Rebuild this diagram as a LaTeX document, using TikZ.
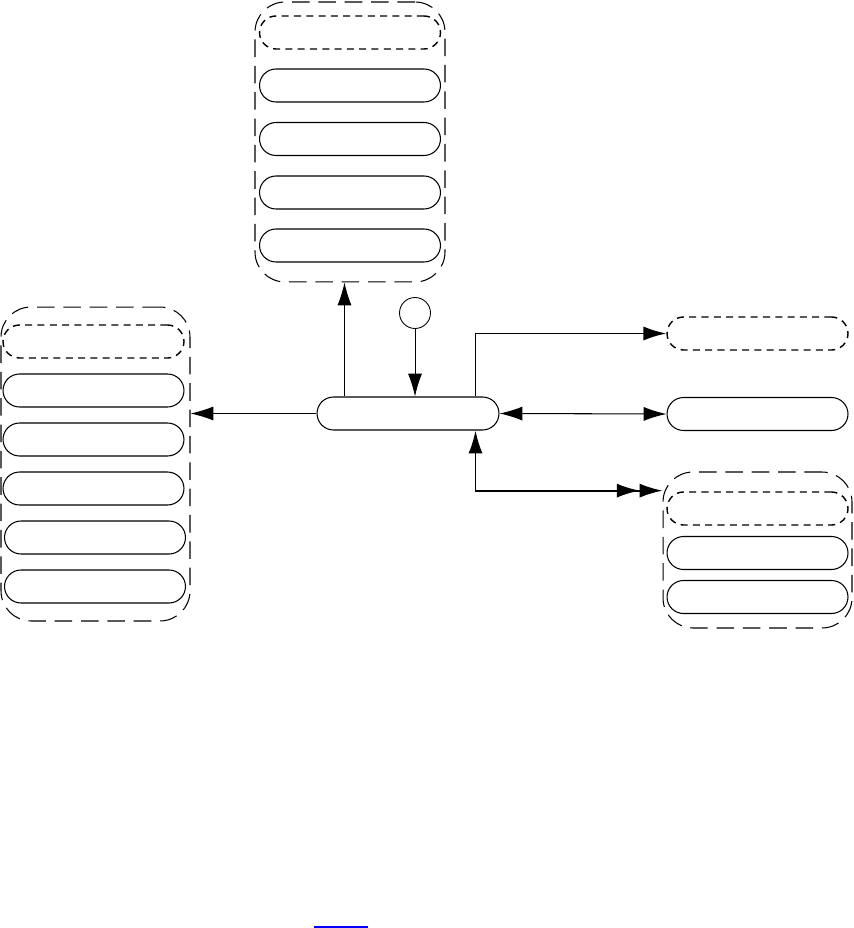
\documentclass[tikz,border=0pt]{standalone}
\usetikzlibrary{arrows.meta}

\tikzset{bigtip/.tip={Latex[length=13pt,width=8pt]}}

\begin{document}
\begin{tikzpicture}[x=0.02cm,y=-0.02cm,
  >=bigtip,
  pill/.style={draw,line width=0.6pt,rounded corners=0.33cm,minimum width=3.62cm,minimum height=0.66cm,inner sep=0pt},
  optpill/.style={pill,line width=0.8pt,dash pattern=on 4pt off 3pt},
  group/.style={draw,line width=0.6pt,dash pattern=on 10pt off 5pt,rounded corners=0.6cm,inner sep=0pt}]
  \useasboundingbox (0,0) rectangle (853,928);
  % top group
  \node[group,minimum width=3.8cm,minimum height=5.6cm] (grpT) at (350,142) {};
  \node[optpill] (optT) at (350,32.5) {};
  \foreach \i/\y in {1/85.5,2/139,3/192.5,4/245.5}
    \node[pill] (pillT\i) at (350,\y) {};
  % left group
  \node[group,minimum width=3.78cm,minimum height=6.28cm] (grpL) at (95.5,464) {};
  \node[optpill] (optL) at (93.5,341.5) {};
  \foreach \i/\x/\y in {1/93.5/390.5,2/93.5/439.5,3/93.5/488.5,4/95/537.5,5/95/586.5}
    \node[pill] (pillL\i) at (\x,\y) {};
  % right side
  \node[optpill] (optR) at (757.5,333.5) {};
  \node[pill] (solR) at (757.5,414) {};
  \node[group,minimum width=3.78cm,minimum height=3.12cm] (grpR) at (757.5,550) {};
  \node[optpill] (optR2) at (757.5,508.5) {};
  \node[pill] (pillR1) at (757.5,553) {};
  \node[pill] (pillR2) at (757.5,597) {};
  % centre
  \node[pill,minimum width=3.64cm] (main) at (408,413.5) {};
  \node[draw,circle,line width=0.5pt,minimum size=0.62cm,inner sep=0pt] (dot) at (415,313) {};
  % connectors
  \draw[->,line width=0.5pt] (main.west) -- (main.west -| grpL.east);
  \draw[->,line width=0.5pt] ([xshift=0.56cm]main.north west) -- ([xshift=0.56cm]main.north west |- grpT.south);
  \draw[->,line width=0.5pt] (dot.south) -- (dot.south |- main.north);
  \draw[->,line width=1pt] ([xshift=-0.48cm]main.north east) |- (optR.west);
  \draw[<->,line width=0.6pt] (main.east) -- (solR.west);
  \draw[{bigtip}-{bigtip[sep=0pt]bigtip},line width=1pt] ([xshift=-0.48cm]main.south east) |- (grpR.148);
  \draw[blue,line width=0.8pt] (314,927) -- (368,927);
\end{tikzpicture}
\end{document}
